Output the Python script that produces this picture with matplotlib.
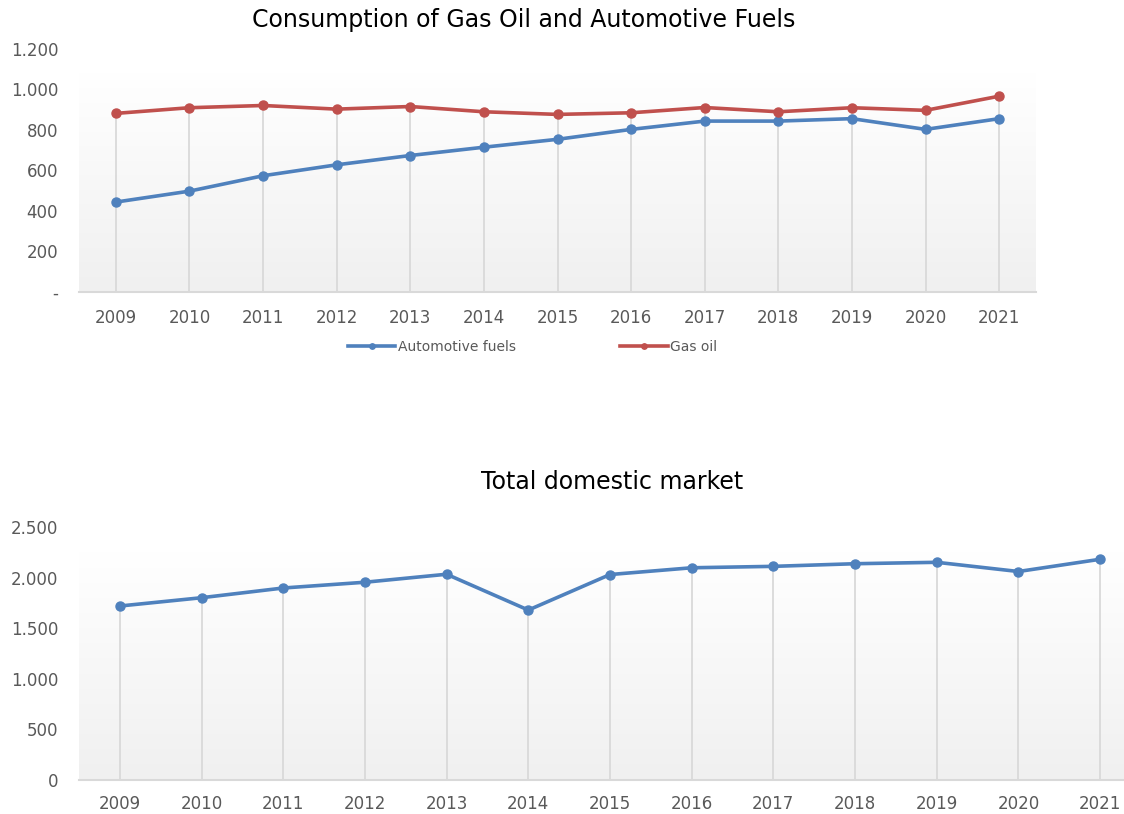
import numpy as np
import matplotlib
matplotlib.use('Agg')
import matplotlib.pyplot as plt
from matplotlib.ticker import FuncFormatter

# Data
years = ['2009', '2010', '2011', '2012', '2013', '2014', '2015',
         '2016', '2017', '2018', '2019', '2020', '2021']
automotive_fuels = [444, 498, 574, 628, 674, 715, 754, 803, 844, 844, 856, 803, 856]
gas_oil = [882, 910, 921, 903, 916, 890, 877, 885, 911, 890, 910, 897, 967]
total_market = [1719, 1801, 1897, 1954, 2033, 1679, 2030, 2097, 2111, 2137, 2151, 2060, 2181]

blue = '#4f81bd'
red = '#c0504d'
tickCol = '#595959'
gridCol = '#d9d9d9'

plt.rcParams['font.family'] = ['DejaVu Sans']

fig = plt.figure(figsize=(11.24, 8.14), dpi=100)


def thousands(zeroLabel):
    def fmt(v, pos):
        if abs(v) < 1e-9:
            return zeroLabel
        return f'{int(round(v)):,}'.replace(',', '.')
    return FuncFormatter(fmt)


def styleAxes(ax, ymax, step, zeroLabel, xpad):
    x = np.arange(len(years))
    ax.set_xlim(-0.5, len(years) - 0.5)
    ax.set_ylim(0, ymax)
    # gradient background, white at top to light grey at bottom
    grad = np.linspace(1.0, 0.0, 256).reshape(-1, 1)
    cmap = matplotlib.colors.LinearSegmentedColormap.from_list('bg', ['#f0f0f0', '#ffffff'])
    ax.imshow(grad, cmap=cmap, aspect='auto', extent=[-0.5, len(years) - 0.5, 0, ymax * 0.9],
              origin='upper', zorder=0, vmin=0, vmax=1)
    ax.set_xticks(x)
    ax.set_xticklabels(years)
    ax.set_yticks(np.arange(0, ymax + 1, step))
    ax.yaxis.set_major_formatter(thousands(zeroLabel))
    ax.tick_params(axis='both', length=0, colors=tickCol, labelsize=12)
    ax.tick_params(axis='y', pad=15)
    ax.tick_params(axis='x', pad=xpad)
    for s in ['top', 'right', 'left']:
        ax.spines[s].set_visible(False)
    ax.spines['bottom'].set_color(gridCol)
    ax.spines['bottom'].set_linewidth(1.5)
    ax.set_facecolor('white')


# Top chart
ax1 = fig.add_axes([0.0703, 0.6413, 0.8514, 0.2985])
styleAxes(ax1, 1200, 200, '-', 12)
x = np.arange(len(years))
ax1.vlines(x, 0, np.maximum(automotive_fuels, gas_oil), color=gridCol, lw=1.3, zorder=1)
ax1.plot(x, automotive_fuels, color=blue, lw=2.6, marker='o', ms=6.5, label='Automotive fuels', zorder=3)
ax1.plot(x, gas_oil, color=red, lw=2.6, marker='o', ms=6.5, label='Gas oil', zorder=3)
ax1.set_title('Consumption of Gas Oil and Automotive Fuels', fontsize=17, color='black', pad=16, x=0.465)

leg = fig.legend(handles=ax1.get_lines(), loc='center', bbox_to_anchor=(0.474, 0.574), ncol=2,
                 frameon=False, fontsize=10, handlelength=3.4, handletextpad=0.2, columnspacing=7.5,
                 markerscale=0.6)
for t in leg.get_texts():
    t.set_color(tickCol)

# Bottom chart
ax2 = fig.add_axes([0.0703, 0.0418, 0.9448, 0.3108])
styleAxes(ax2, 2500, 500, '0', 11)
ax2.vlines(x, 0, total_market, color=gridCol, lw=1.3, zorder=1)
ax2.plot(x, total_market, color=blue, lw=2.6, marker='o', ms=6.5, zorder=3)
ax2.set_title('Total domestic market', fontsize=17, color='black', pad=27, x=0.502)

fig.savefig('out.png', dpi=100)
